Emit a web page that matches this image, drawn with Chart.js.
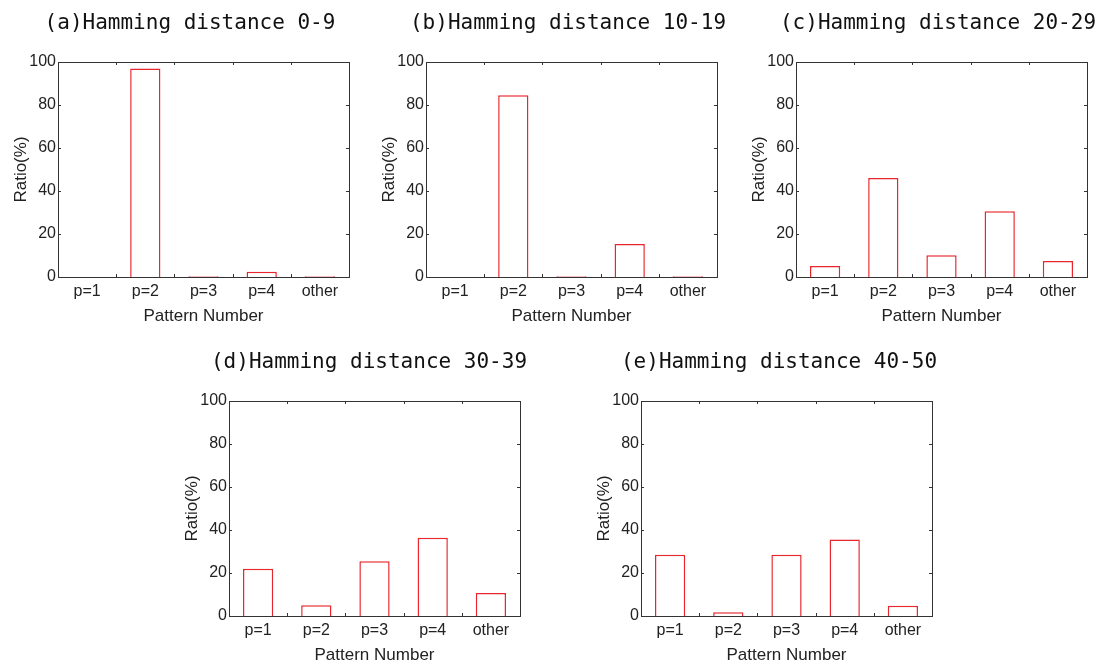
<!DOCTYPE html>
<html lang="en">
<head>
    <meta charset="UTF-8">
    <title>Hamming distance - pattern ratio</title>
    <style>
        html, body { margin: 0; padding: 0; background: #fff; width: 1099px; height: 666px; overflow: hidden; }
        .panel { position: absolute; }
        .title {
            position: absolute;
            width: 400px;
            text-align: center;
            font-family: 'DejaVu Sans Mono', monospace;
            font-size: 21px;
            line-height: 25px;
            color: #111;
            white-space: nowrap;
        }
    </style>
</head>
<body>
    <div class="panel" style="left:0px; top:0px;"><canvas id="chartA" width="357" height="327"></canvas></div>
    <div class="panel" style="left:368px; top:0px;"><canvas id="chartB" width="357" height="327"></canvas></div>
    <div class="panel" style="left:738px; top:0px;"><canvas id="chartC" width="357" height="327"></canvas></div>
    <div class="panel" style="left:171px; top:339px;"><canvas id="chartD" width="357" height="327"></canvas></div>
    <div class="panel" style="left:583px; top:339px;"><canvas id="chartE" width="357" height="327"></canvas></div>

    <div class="title" style="left:-10px; top:10px;">(a)Hamming distance 0-9</div>
    <div class="title" style="left:368px; top:10px;">(b)Hamming distance 10-19</div>
    <div class="title" style="left:738px; top:10px;">(c)Hamming distance 20-29</div>
    <div class="title" style="left:169px; top:349px;">(d)Hamming distance 30-39</div>
    <div class="title" style="left:579px; top:349px;">(e)Hamming distance 40-50</div>

    <script src="https://cdn.jsdelivr.net/npm/chart.js"></script>
    <script>
        // categories and y ticks
        const patterns = ['p=1', 'p=2', 'p=3', 'p=4', 'other'];
        const ratioTicks = [0, 20, 40, 60, 80, 100];

        // ratio (%) per pattern, one array per hamming distance range
        const ratio0to9 = [0, 97, 0.3, 2.5, 0.3];
        const ratio10to19 = [0, 84.5, 0.3, 15.3, 0.3];
        const ratio20to29 = [5.1, 46, 10.1, 30.6, 7.5];
        const ratio30to39 = [22, 5, 25.5, 36.4, 10.7];
        const ratio40to50 = [28.5, 1.7, 28.5, 35.6, 4.8];

        // box around the plot with small inward ticks on every side
        const frameTicks = {
            id: 'frameTicks',
            afterDatasetsDraw(chart) {
                const { ctx, chartArea: a, scales: { x, y } } = chart;
                const len = 3;
                ctx.save();
                ctx.strokeStyle = '#333';
                ctx.lineWidth = 1;
                ctx.beginPath();
                y.ticks.forEach(t => {
                    const py = Math.round(y.getPixelForValue(t.value)) + 0.5;
                    ctx.moveTo(a.left, py); ctx.lineTo(a.left + len, py);
                    ctx.moveTo(a.right, py); ctx.lineTo(a.right - len, py);
                });
                for (let i = 1; i < patterns.length; i++) {
                    const px = Math.round((x.getPixelForValue(i - 1) + x.getPixelForValue(i)) / 2) + 0.5;
                    ctx.moveTo(px, a.top); ctx.lineTo(px, a.top + len);
                    ctx.moveTo(px, a.bottom); ctx.lineTo(px, a.bottom - len);
                }
                ctx.stroke();
                ctx.strokeRect(Math.round(a.left) + 0.5, Math.round(a.top) + 0.5,
                    Math.round(a.right - a.left), Math.round(a.bottom - a.top));
                ctx.restore();
            }
        };

        function makeChart(id, values) {
            const ctx = document.getElementById(id).getContext('2d');
            return new Chart(ctx, {
                type: 'bar',
                data: {
                    labels: patterns,
                    datasets: [{
                        data: values,
                        backgroundColor: '#ffffff',
                        borderColor: '#e8262c',
                        borderWidth: 1.5,
                        barPercentage: 0.52,
                        categoryPercentage: 1
                    }]
                },
                options: {
                    responsive: false,
                    animation: false,
                    layout: { padding: { left: 0, right: 8, top: 62, bottom: 0 } },
                    plugins: {
                        legend: { display: false },
                        tooltip: { enabled: false }
                    },
                    scales: {
                        x: {
                            grid: { display: false, drawTicks: false },
                            border: { display: false },
                            ticks: {
                                color: '#222',
                                padding: 5,
                                font: { family: 'Liberation Sans', size: 16 }
                            },
                            title: {
                                display: true,
                                text: 'Pattern Number',
                                color: '#222',
                                font: { family: 'Liberation Sans', size: 17 },
                                padding: { top: 0, bottom: 0 }
                            },
                            afterFit: s => { s.height = 50; }
                        },
                        y: {
                            min: 0,
                            max: 100,
                            grid: { display: false, drawTicks: false },
                            border: { display: false },
                            afterBuildTicks: s => { s.ticks = ratioTicks.map(v => ({ value: v })); },
                            ticks: {
                                color: '#222',
                                padding: 2,
                                font: { family: 'Liberation Sans', size: 16 }
                            },
                            title: {
                                display: true,
                                text: 'Ratio(%)',
                                color: '#222',
                                font: { family: 'Liberation Sans', size: 17 },
                                padding: { top: 11, bottom: 0 }
                            },
                            afterFit: s => { s.width = 58; }
                        }
                    }
                },
                plugins: [frameTicks]
            });
        }

        makeChart('chartA', ratio0to9);
        makeChart('chartB', ratio10to19);
        makeChart('chartC', ratio20to29);
        makeChart('chartD', ratio30to39);
        makeChart('chartE', ratio40to50);
    </script>
</body>
</html>
